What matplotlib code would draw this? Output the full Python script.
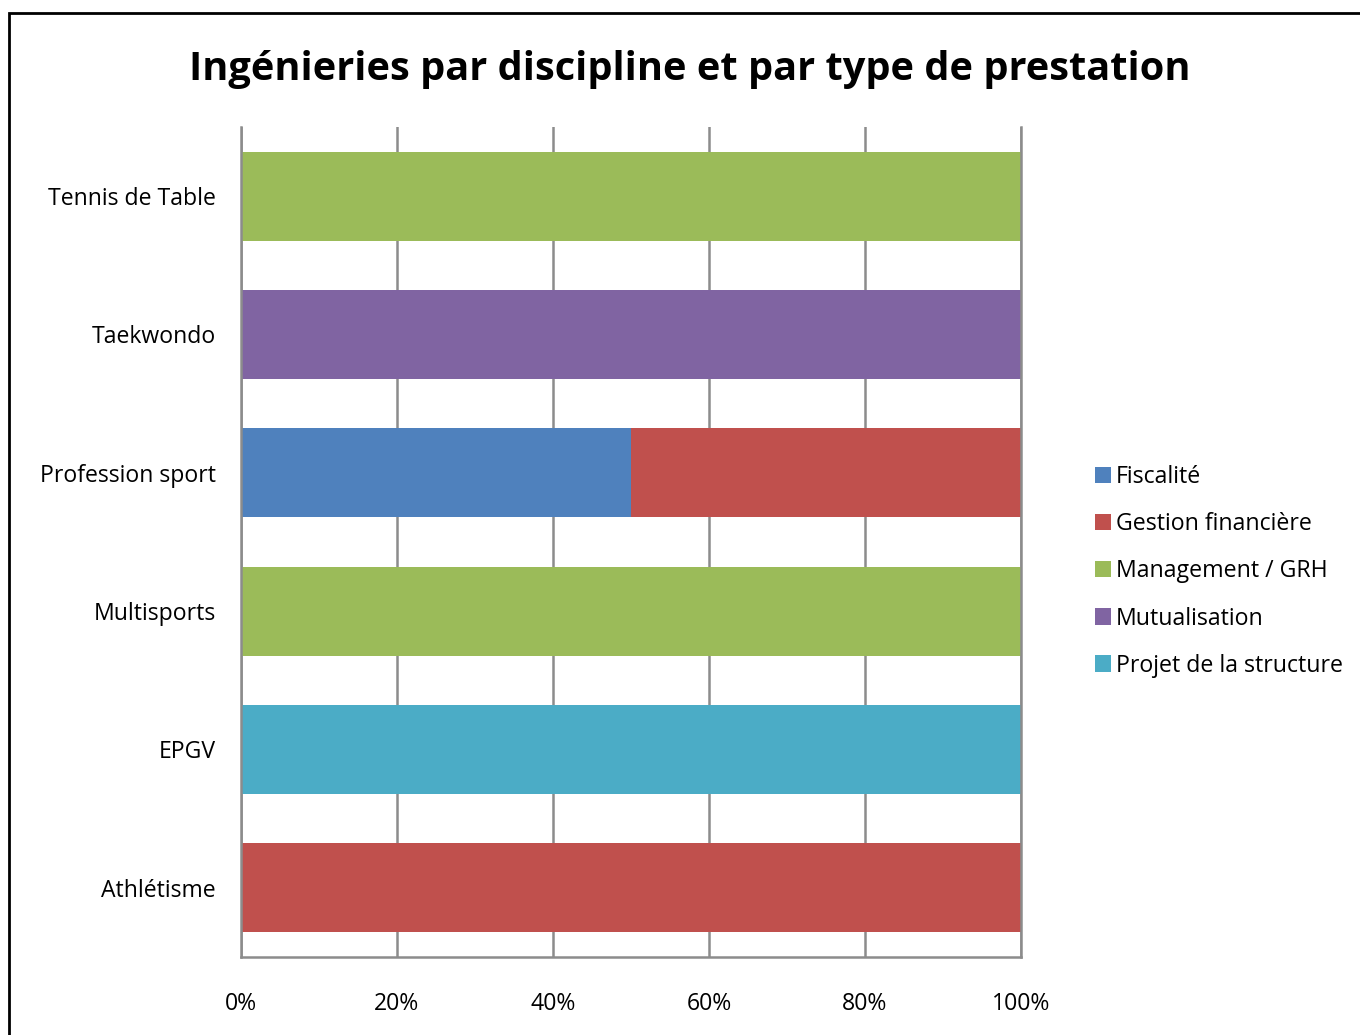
import numpy as np
import matplotlib.pyplot as plt
from matplotlib.patches import Rectangle
from matplotlib.ticker import PercentFormatter

plt.rcParams['font.family'] = ['Open Sans', 'DejaVu Sans']

# data (bottom to top, as drawn)
disciplines = ['Athlétisme', 'EPGV', 'Multisports', 'Profession sport', 'Taekwondo', 'Tennis de Table']
series = ['Fiscalité', 'Gestion financière', 'Management / GRH', 'Mutualisation', 'Projet de la structure']
fiscalite = [0, 0, 0, 1, 0, 0]
gestion = [1, 0, 0, 1, 0, 0]
management = [0, 0, 1, 0, 0, 1]
mutualisation = [0, 0, 0, 0, 1, 0]
projet = [0, 1, 0, 0, 0, 0]
colors = ['#4F81BD', '#C0504D', '#9BBB59', '#8064A2', '#4BACC6']

counts = np.array([fiscalite, gestion, management, mutualisation, projet], dtype=float)
shares = counts / counts.sum(axis=0) * 100

fig = plt.figure(figsize=(13.6, 10.35), dpi=100)
ax = fig.add_axes([0.1772, 0.0754, 0.5735, 0.8019])

y = np.arange(len(disciplines))
left = np.zeros(len(disciplines))
for i, name in enumerate(series):
    ax.barh(y, shares[i], left=left, height=0.645, color=colors[i], label=name, zorder=3)
    left += shares[i]

ax.set_xlim(0, 100)
ax.set_ylim(-0.5, len(disciplines) - 0.5)
ax.set_xticks([0, 20, 40, 60, 80, 100])
ax.xaxis.set_major_formatter(PercentFormatter(decimals=0))
ax.set_yticks(y)
ax.set_yticklabels(disciplines)
ax.tick_params(length=0, labelsize=16.6)
ax.tick_params(axis='x', pad=25)
ax.tick_params(axis='y', pad=18)
ax.grid(axis='x', color='#8C8C8C', linewidth=1.8, zorder=0)
ax.spines['top'].set_visible(False)
for s in ['left', 'bottom', 'right']:
    ax.spines[s].set_color('#8C8C8C')
    ax.spines[s].set_linewidth(1.8)
    ax.spines[s].set_zorder(4)

fig.text(0.507, 0.933, 'Ingénieries par discipline et par type de prestation',
         ha='center', va='center', fontsize=28.6, fontweight='bold')

fig.legend(loc='center left', bbox_to_anchor=(0.805, 0.448), frameon=False, fontsize=16.7,
           handlelength=0.7, handleheight=0.7, handletextpad=0.2, labelspacing=1.0,
           borderpad=0, borderaxespad=0)

# outer chart border
fig.patches.append(Rectangle((9 / 1360, -0.1), 1.2, 0.1 + 1 - 13 / 1035, transform=fig.transFigure,
                             fill=False, edgecolor='black', linewidth=2))

fig.savefig('out.png', dpi=100)
